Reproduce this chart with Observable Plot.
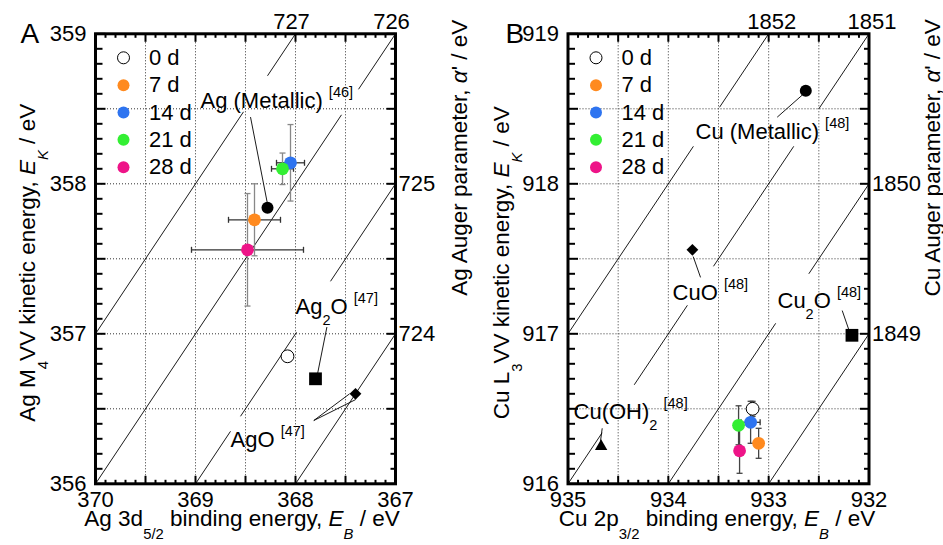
<!DOCTYPE html>
<html>
<head>
<meta charset="utf-8">
<script src="https://cdn.jsdelivr.net/npm/d3@7"></script>
<script src="https://cdn.jsdelivr.net/npm/@observablehq/plot@0.6"></script>
<style>
  html, body { margin: 0; padding: 0; background: #fff; }
  #chart { position: relative; width: 943px; height: 545px; overflow: hidden; background: #fff; }
  .panel { position: absolute; top: 0; }
  .panel svg { overflow: visible; }
</style>
</head>
<body>
<div id="chart">
  <div id="panelA" class="panel" style="left:0px"></div>
  <div id="panelB" class="panel" style="left:472px"></div>
</div>
<script>
const FONT = "'Liberation Sans', Arial, Helvetica, sans-serif";

// ---------- shared legend ----------
const dayLabels = ["0 d", "7 d", "14 d", "21 d", "28 d"];
const dayColors = ["#ffffff", "#ff8a1f", "#2e74f0", "#33ef33", "#ee1488"];

// ---------- Panel A : Ag ----------
const agXDomain = [370, 367];
const agYDomain = [356, 359];
const agXTicks = [370, 369, 368, 367];
const agYTicks = [356, 357, 358, 359];
const agXGrid = [369.5, 369, 368.5, 368, 367.5];
const agYGrid = [356.5, 357, 357.5, 358, 358.5];
const agTopAlpha = [727, 726];
const agRightAlpha = [725, 724];
const agDiagAlpha = [727, 726, 725, 724];
const agDiagParts = [
  [[370, 368.52], [368.28, 368]],
  [[370, 367.54], [367.37, 367]],
  [[369, 368.65], [368.55, 367.99], [367.65, 367]],
  [[368, 367]]
];
const agSampleEB = [368.08, 368.41, 368.05, 368.13, 368.48];
const agSampleEK = [356.85, 357.76, 358.14, 358.10, 357.56];
const agSampleEBerr = [0, 0.26, 0.14, 0.11, 0.56];
const agSampleEKerr = [0, 0.24, 0.255, 0.105, 0.375];
const agRefLabels = ["Ag (Metallic) ^{[46]}", "Ag_{2}O ^{[47]}", "AgO ^{[47]}"];
const agRefSymbols = ["circle", "square", "diamond2"];
const agRefEB = [368.28, 367.80, 367.40];
const agRefEK = [357.84, 356.70, 356.60];
// annotation layout (label anchor and leader lines, in data units)
const agLabelAt = [[368.95, 358.555], [368.00, 357.177], [368.65, 356.295]];
const agLeaders = [
  [368.45, 358.445, 368.284, 357.879],
  [367.686, 357.045, 367.779, 356.735],
  [367.817, 356.422, 367.459, 356.600],
  [367.817, 356.422, 367.400, 356.561]
];

// ---------- Panel B : Cu ----------
const cuXDomain = [935, 932];
const cuYDomain = [916, 919];
const cuXTicks = [935, 934, 933, 932];
const cuYTicks = [916, 917, 918, 919];
const cuXGrid = [934.5, 934, 933.5, 933, 932.5];
const cuYGrid = [916.5, 917, 917.5, 918, 918.5];
const cuTopAlpha = [1852, 1851];
const cuRightAlpha = [1850, 1849];
const cuDiagAlpha = [1852, 1851, 1850, 1849];
const cuDiagParts = [
  [[935, 933.75], [933.49, 933]],
  [[935, 934.66], [934.34, 933.81], [933.55, 932.75], [932.50, 932]],
  [[934, 932.93], [932.60, 932]],
  [[933, 932]]
];
const cuSampleEB = [933.16, 933.10, 933.18, 933.30, 933.29];
const cuSampleEK = [916.50, 916.27, 916.41, 916.39, 916.22];
const cuSampleEBerr = [0, 0, 0.095, 0, 0];
const cuSampleEKerr = [0.05, 0.10, 0.14, 0.13, 0.15];
const cuRefLabels = ["Cu (Metallic) ^{[48]}", "CuO ^{[48]}", "Cu_{2}O ^{[48]}", "Cu(OH)_{2} ^{[48]}"];
const cuRefSymbols = ["circle", "diamond2", "square", "triangle"];
const cuRefEB = [932.63, 933.76, 932.17, 934.67];
const cuRefEK = [918.62, 917.56, 916.99, 916.25];
const cuLabelAt = [[933.729, 918.347], [933.958, 917.275], [932.912, 917.222], [934.945, 916.482]];
const cuLeaders = [
  [932.915, 918.444, 932.656, 918.597],
  [933.679, 917.376, 933.752, 917.515],
  [932.267, 917.155, 932.201, 917.027],
  [934.659, 916.37, 934.676, 916.285]
];

// ---------- helpers ----------
const SYMBOL_R = {circle: 6, square: 7.2, diamond2: 5.3, triangle: 4.6};
const seg = (x0, y0, x1, y1) => ({draw(ctx) { ctx.moveTo(x0, y0); ctx.lineTo(x1, y1); }});

function parseRich(str) {
  const segs = [];
  let italic = false, mode = null, buf = "";
  const flush = () => { if (buf) segs.push({text: buf, italic, mode}); buf = ""; };
  for (let i = 0; i < str.length; i++) {
    const c = str[i];
    if ((c === "_" || c === "^" || c === "~") && str[i + 1] === "{") {
      flush(); mode = c === "_" ? "sub" : c === "~" ? "deep" : "sup"; i++; continue;
    }
    if (c === "}" && mode) { flush(); mode = null; continue; }
    if (c === "*") { flush(); italic = !italic; continue; }
    buf += c;
  }
  flush();
  return segs;
}
const SHIFT = {sub: 0.5, deep: 0.6, sup: -0.5};
const SCALE = 0.66;
function richify(svg) {
  d3.select(svg).selectAll("text").each(function () {
    const t = this.textContent;
    if (!/[_^~]\{|\*/.test(t)) return;
    const segs = parseRich(t);
    const sel = d3.select(this);
    sel.text(null).attr("xml:space", "preserve").style("white-space", "pre");
    let cur = 0;
    for (const s of segs) {
      const target = s.mode ? SHIFT[s.mode] : 0;
      const k = s.mode ? SCALE : 1;
      const ts = sel.append("tspan").text(s.text);
      if (s.italic) ts.attr("font-style", "italic");
      if (k !== 1) ts.attr("font-size", `${k * 100}%`);
      const d = target - cur;
      if (Math.abs(d) > 1e-9) ts.attr("dy", `${(d / k).toFixed(3)}em`);
      cur = target;
    }
  });
}

function drawPanel(el, P) {
  const [xL, xR] = P.xDomain, [yB, yT] = P.yDomain;
  const minor = (a, b) => d3.range(0, Math.round(Math.abs(b - a) * 10) + 1)
    .map(i => +(Math.min(a, b) + i / 10).toFixed(1));
  const isMajor = v => Math.abs(v * 2 - Math.round(v * 2)) < 1e-6;
  const xAll = minor(xL, xR), yAll = minor(yB, yT);
  const xMaj = xAll.filter(isMajor), xMin = xAll.filter(v => !isMajor(v));
  const yMaj = yAll.filter(isMajor), yMin = yAll.filter(v => !isMajor(v));

  const samples = P.eb.map((eb, i) => ({
    day: dayLabels[i], color: dayColors[i], eb, ek: P.ek[i], ex: P.ebErr[i], ey: P.ekErr[i]
  }));
  const refs = P.refLabels.map((label, i) => ({
    label, symbol: P.refSymbols[i], eb: P.refEB[i], ek: P.refEK[i],
    lx: P.labelAt[i][0], ly: P.labelAt[i][1]
  }));
  const diag = P.diagAlpha.flatMap((a, i) => P.diagParts[i].map(([b1, b2]) => ({
    x1: b1, y1: a - b1, x2: b2, y2: a - b2
  })));
  const leaders = P.leaders.map(([x1, y1, x2, y2]) => ({x1, y1, x2, y2}));
  const vErr = samples.filter(d => d.ey > 0);
  const hErr = samples.filter(d => d.ex > 0);
  const vCaps = vErr.flatMap(d => [{x: d.eb, y: d.ek - d.ey}, {x: d.eb, y: d.ek + d.ey}]);
  const hCaps = hErr.flatMap(d => [{x: d.eb - d.ex, y: d.ek}, {x: d.eb + d.ex, y: d.ek}]);
  const tick = {stroke: "#000", strokeWidth: 2, fill: "none"};

  const marks = [
    Plot.ruleX(P.xGrid, {x: d => d, stroke: "#333", strokeWidth: 1, strokeDasharray: "1,2"}),
    Plot.ruleY(P.yGrid, {y: d => d, stroke: "#333", strokeWidth: 1, strokeDasharray: "1,2"}),
    Plot.link(diag, {x1: "x1", y1: "y1", x2: "x2", y2: "y2", stroke: "#000", strokeWidth: 0.9}),
    Plot.link(leaders, {x1: "x1", y1: "y1", x2: "x2", y2: "y2", stroke: "#000", strokeWidth: 0.9}),
    // error bars
    Plot.link(hErr, {x1: d => d.eb - d.ex, x2: d => d.eb + d.ex, y1: "ek", y2: "ek", stroke: P.hErrColor, strokeWidth: 1.3}),
    Plot.dot(hCaps, {x: "x", y: "y", symbol: seg(0, -3, 0, 3), stroke: P.hErrColor, strokeWidth: 1.3, fill: "none"}),
    Plot.link(vErr, {x1: "eb", x2: "eb", y1: d => d.ek - d.ey, y2: d => d.ek + d.ey, stroke: P.vErrColor, strokeWidth: 1.3}),
    Plot.dot(vCaps, {x: "x", y: "y", symbol: seg(-3, 0, 3, 0), stroke: P.vErrColor, strokeWidth: 1.3, fill: "none"}),
    // reference compounds
    ...refs.map(r => Plot.dot([r], {x: "eb", y: "ek", symbol: r.symbol, r: SYMBOL_R[r.symbol], fill: "#000"})),
    // samples
    Plot.dot(samples.slice(0, 1), {x: "eb", y: "ek", r: 6.4, fill: "#fff", stroke: "#000", strokeWidth: 1}),
    Plot.dot(samples.slice(1), {x: "eb", y: "ek", r: 6.4, fill: "color"}),
    // annotation labels
    Plot.text(refs, {x: "lx", y: "ly", text: "label", textAnchor: "start", lineAnchor: "middle", fontSize: 22}),
    // inward ticks
    Plot.dot(xMin, {x: d => d, frameAnchor: "bottom", symbol: seg(0, 0, 0, -4), ...tick}),
    Plot.dot(xMaj, {x: d => d, frameAnchor: "bottom", symbol: seg(0, 0, 0, -8), ...tick}),
    Plot.dot(xMin, {x: d => d, frameAnchor: "top", symbol: seg(0, 0, 0, 4), ...tick}),
    Plot.dot(xMaj, {x: d => d, frameAnchor: "top", symbol: seg(0, 0, 0, 8), ...tick}),
    Plot.dot(yMin, {y: d => d, frameAnchor: "left", symbol: seg(0, 0, 7, 0), ...tick}),
    Plot.dot(yMaj, {y: d => d, frameAnchor: "left", symbol: seg(0, 0, 10, 0), ...tick}),
    Plot.dot(yMin, {y: d => d, frameAnchor: "right", symbol: seg(0, 0, -5, 0), ...tick}),
    Plot.dot(yMaj, {y: d => d, frameAnchor: "right", symbol: seg(0, 0, -9, 0), ...tick}),
    Plot.frame({stroke: "#000", strokeWidth: 3}),
    // tick labels
    Plot.text(P.xTicks, {x: d => d, frameAnchor: "bottom", dy: 16, lineAnchor: "middle", text: d => String(d), fontSize: 22}),
    Plot.text(P.yTicks, {y: d => d, frameAnchor: "left", dx: -9, textAnchor: "end", lineAnchor: "middle", text: d => String(d), fontSize: 22}),
    Plot.text(P.topAlpha, {x: a => a - yT, frameAnchor: "top", dx: P.topDx, dy: -12, lineAnchor: "middle", text: d => String(d), fontSize: 22}),
    Plot.text(P.rightAlpha, {y: a => a - xR, frameAnchor: "right", dx: 3, textAnchor: "start", lineAnchor: "middle", text: d => String(d), fontSize: 22}),
    // legend
    ...dayLabels.map((lab, i) => Plot.dot([lab], {
      frameAnchor: "top-left", dx: 28, dy: 24 + 27.35 * i, r: 6,
      fill: dayColors[i], stroke: i === 0 ? "#000" : "none", strokeWidth: 1
    })),
    ...dayLabels.map((lab, i) => Plot.text([lab], {
      frameAnchor: "top-left", dx: 53.5, dy: 24 + 27.35 * i, textAnchor: "start", lineAnchor: "middle", text: d => d, fontSize: 22
    })),
    // titles
    Plot.text([P.letter], {frameAnchor: "top-left", dx: P.letterDx, dy: 0, textAnchor: "start", lineAnchor: "middle", text: d => d, fontSize: 28}),
    Plot.text([P.xTitle], {frameAnchor: "bottom", dx: P.xTitleDx, dy: 42, textAnchor: "middle", lineAnchor: "bottom", text: d => d, fontSize: 22.5}),
    Plot.text([P.yTitle], {frameAnchor: "left", dx: P.yTitleDx, dy: 4, rotate: -90, textAnchor: "middle", lineAnchor: "bottom", text: d => d, fontSize: 22.5}),
    Plot.text([P.y2Title], {frameAnchor: "top-right", dx: P.y2TitleDx, dy: 124, rotate: -90, textAnchor: "middle", lineAnchor: "bottom", text: d => d, fontSize: 22.5})
  ];

  const plot = Plot.plot({
    width: P.width, height: 545,
    marginLeft: P.ml, marginRight: P.mr, marginTop: 33.3, marginBottom: 61.7,
    x: {domain: P.xDomain, axis: null},
    y: {domain: P.yDomain, axis: null},
    color: {type: "identity"},
    style: {fontFamily: FONT, fontSize: "22px", color: "#000", background: "transparent", overflow: "visible"},
    marks
  });
  richify(plot);
  el.appendChild(plot);
}

drawPanel(document.getElementById("panelA"), {
  width: 472, ml: 95, mr: 77,
  xDomain: agXDomain, yDomain: agYDomain, xTicks: agXTicks, yTicks: agYTicks,
  xGrid: agXGrid, yGrid: agYGrid, topAlpha: agTopAlpha, rightAlpha: agRightAlpha,
  diagAlpha: agDiagAlpha, diagParts: agDiagParts,
  eb: agSampleEB, ek: agSampleEK, ebErr: agSampleEBerr, ekErr: agSampleEKerr,
  refLabels: agRefLabels, refSymbols: agRefSymbols, refEB: agRefEB, refEK: agRefEK,
  labelAt: agLabelAt, leaders: agLeaders,
  hErrColor: "#333", vErrColor: "#888", topDx: -4,
  letter: "A", letterDx: -75,
  xTitle: "Ag 3d~{5/2} binding energy, *E*~{*B*} / eV", xTitleDx: -3.5,
  yTitle: "Ag M~{4}VV kinetic energy, *E*~{*K*} / eV", yTitleDx: -61,
  y2Title: "Ag Auger parameter, *α*' / eV", y2TitleDx: 71
});

drawPanel(document.getElementById("panelB"), {
  width: 471, ml: 95.5, mr: 74.5,
  xDomain: cuXDomain, yDomain: cuYDomain, xTicks: cuXTicks, yTicks: cuYTicks,
  xGrid: cuXGrid, yGrid: cuYGrid, topAlpha: cuTopAlpha, rightAlpha: cuRightAlpha,
  diagAlpha: cuDiagAlpha, diagParts: cuDiagParts,
  eb: cuSampleEB, ek: cuSampleEK, ebErr: cuSampleEBerr, ekErr: cuSampleEKerr,
  refLabels: cuRefLabels, refSymbols: cuRefSymbols, refEB: cuRefEB, refEK: cuRefEK,
  labelAt: cuLabelAt, leaders: cuLeaders,
  hErrColor: "#333", vErrColor: "#444", topDx: 3,
  letter: "B", letterDx: -62.5,
  xTitle: "Cu 2p~{3/2} binding energy, *E*~{*B*} / eV", xTitleDx: -1.5,
  yTitle: "Cu L~{3}VV kinetic energy, *E*~{*K*} / eV", yTitleDx: -59.5,
  y2Title: "Cu Auger parameter, *α*' / eV", y2TitleDx: 70.5
});
</script>
</body>
</html>
